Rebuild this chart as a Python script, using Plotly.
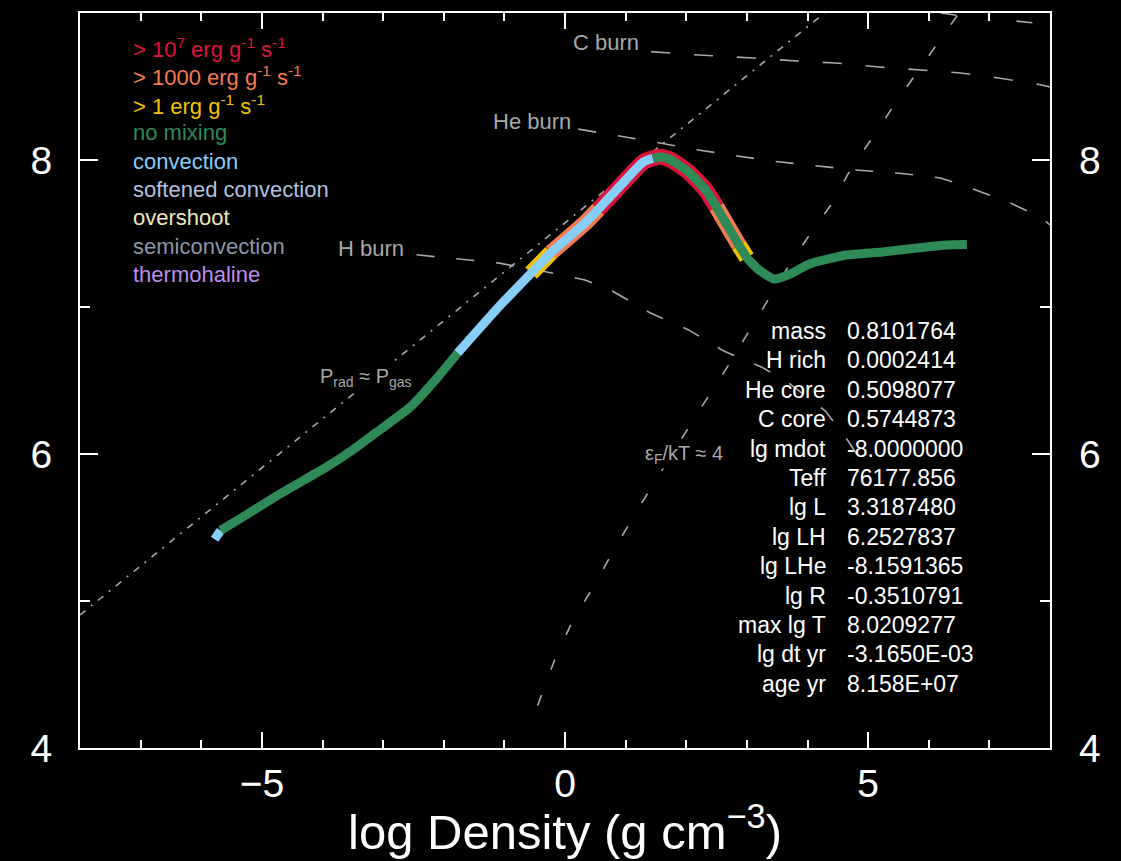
import plotly.graph_objects as go

# ---------------- data ----------------
# stellar profile: log density vs log temperature
log_rho = [-5.78, -5.68, -5.26, -4.76, -4.30, -3.93, -3.50, -3.10, -2.55, -2.11,
           -1.77, -1.11, -0.56, -0.23, 0.33, 0.55, 0.88, 1.29, 1.45, 1.60,
           1.75, 2.04, 2.32, 2.50, 2.75, 2.87, 3.00, 3.20, 3.45, 3.75,
           4.03, 4.64, 5.24, 5.80, 6.30, 6.63]
log_T = [5.42, 5.48, 5.585, 5.714, 5.824, 5.912, 6.028, 6.150, 6.320, 6.517,
         6.687, 6.993, 7.23, 7.37, 7.571, 7.665, 7.81, 7.986, 8.012, 8.021,
         8.00, 7.918, 7.796, 7.68, 7.503, 7.42, 7.335, 7.252, 7.19, 7.231,
         7.293, 7.354, 7.374, 7.401, 7.422, 7.425]
# mixing type of the segment that starts at each point
mix_type = (["convection"] + ["no mixing"] * 9 + ["convection"] * 8
            + ["no mixing"] * 17 + [""])
# burning level of the segment that starts at each point
burn_type = (["none"] * 12 + ["gt1"] + ["gt1000"] * 2 + ["gt1e7"] * 8
             + ["gt1000"] * 2 + ["gt1"] + ["none"] * 9 + [""])

# reference lines
prad_rho = [-8.0, 4.28]
prad_T = [4.905, 9.0]
degen_rho = [-0.45, -0.18, 0.13, 0.46, 0.81, 1.18, 1.51, 2.22, 2.60, 2.95,
             3.32, 3.72, 4.05, 4.38, 4.73, 5.12, 5.47, 5.87, 6.30, 6.50]
degen_T = [4.29, 4.59, 4.87, 5.09, 5.35, 5.61, 5.83, 6.30, 6.54, 6.78,
           7.03, 7.30, 7.50, 7.69, 7.95, 8.18, 8.40, 8.63, 8.88, 9.0]
hburn_rho = [-2.45, -1.11, -0.32, 0.33, 0.75, 1.41, 2.04, 2.62, 3.25, 3.70, 4.30, 4.66, 4.89]
hburn_T = [7.355, 7.30, 7.24, 7.184, 7.116, 6.959, 6.844, 6.70, 6.59, 6.48, 6.29, 6.095, 5.95]
heburn_rho = [0.22, 1.38, 2.09, 2.75, 3.40, 4.03, 4.78, 5.47, 6.19, 6.65, 7.35, 7.84, 8.0]
heburn_T = [8.21, 8.13, 8.075, 8.034, 7.993, 7.966, 7.932, 7.912, 7.878, 7.816, 7.707, 7.612, 7.558]
cburn_rho = [1.42, 2.21, 3.10, 3.83, 4.46, 5.17, 6.52, 7.15, 7.78, 8.0]
cburn_T = [8.737, 8.714, 8.694, 8.673, 8.660, 8.633, 8.592, 8.558, 8.517, 8.497]
oburn_rho = [6.20, 6.43, 7.76, 8.0]
oburn_T = [9.0, 8.986, 8.932, 8.91]

# text blocks
legend_labels = ["> 10<sup>7</sup> erg g<sup>-1</sup> s<sup>-1</sup>",
                 "> 1000 erg g<sup>-1</sup> s<sup>-1</sup>",
                 "> 1 erg g<sup>-1</sup> s<sup>-1</sup>",
                 "no mixing", "convection", "softened convection",
                 "overshoot", "semiconvection", "thermohaline"]
legend_colors = ["#DC143C", "#F47A52", "#F2C200", "#2E8B57", "#87CEFA",
                 "#B0C0DE", "#EDE6BE", "#8A96A8", "#BE8CF0"]
info_labels = ["mass", "H rich", "He core", "C core", "lg mdot", "Teff", "lg L",
               "lg LH", "lg LHe", "lg R", "max lg T", "lg dt yr", "age yr"]
info_values = ["0.8101764", "0.0002414", "0.5098077", "0.5744873", "-8.0000000",
               "76177.856", "3.3187480", "6.2527837", "-8.1591365", "-0.3510791",
               "8.0209277", "-3.1650E-03", "8.158E+07"]

mix_colors = {"no mixing": "#2E8B57", "convection": "#87CEFA"}
burn_colors = {"gt1e7": "#DC143C", "gt1000": "#F47A52", "gt1": "#F2C200"}

GRAY = "#A8A8A8"
FONT = "Liberation Sans"

fig = go.Figure()


def add_ref(xs, ys, dash, width=1.6):
    fig.add_trace(go.Scatter(x=xs, y=ys, mode="lines", hoverinfo="skip",
                             line=dict(color=GRAY, width=width, dash=dash)))


add_ref(prad_rho, prad_T, "7px,7px,2px,7px")
add_ref(degen_rho, degen_T, "11px,27px")
add_ref(hburn_rho, hburn_T, "18px,22px")
add_ref(heburn_rho, heburn_T, "18px,22px")
add_ref(cburn_rho, cburn_T, "19px,24px")
add_ref(oburn_rho, oburn_T, "16px,60px")


def runs(types):
    out = []
    start = 0
    n = len(types) - 1  # number of segments
    for i in range(1, n + 1):
        if i == n or types[i] != types[start]:
            out.append((types[start], start, i))
            start = i
    return out


# burning bands (drawn under the mixing line)
for t, a, b in runs(burn_type):
    if t in burn_colors:
        fig.add_trace(go.Scatter(x=log_rho[a:b + 1], y=log_T[a:b + 1], mode="lines",
                                 line=dict(color=burn_colors[t], width=16, shape="spline",
                                           smoothing=0.5),
                                 hoverinfo="skip"))

# mixing line
for t, a, b in runs(mix_type):
    fig.add_trace(go.Scatter(x=log_rho[a:b + 1], y=log_T[a:b + 1], mode="lines",
                             line=dict(color=mix_colors[t], width=9, shape="spline",
                                       smoothing=0.5),
                             hoverinfo="skip"))

# invisible trace to activate right axis
fig.add_trace(go.Scatter(x=[log_rho[0]], y=[log_T[0]], yaxis="y2", mode="markers",
                         marker=dict(opacity=0), hoverinfo="skip"))

# line annotations
lab_font = dict(family=FONT, size=22, color=GRAY)
fig.add_annotation(x=1.26, y=8.80, text="C burn", showarrow=False, xanchor="right",
                   yanchor="middle", font=lab_font)
fig.add_annotation(x=0.13, y=8.26, text="He burn", showarrow=False, xanchor="right",
                   yanchor="middle", font=lab_font)
fig.add_annotation(x=-2.62, y=7.40, text="H burn", showarrow=False, xanchor="right",
                   yanchor="middle", font=lab_font)
fig.add_annotation(x=-3.28, y=6.52, text="P<sub>rad</sub> ≈ P<sub>gas</sub>", showarrow=False,
                   xanchor="center", yanchor="middle", font=dict(family=FONT, size=20, color=GRAY),
                   bgcolor="black")
fig.add_annotation(x=1.97, y=6.0, text="ε<sub>F</sub>/kT ≈ 4", showarrow=False,
                   xanchor="center", yanchor="middle", font=dict(family=FONT, size=20, color=GRAY),
                   bgcolor="black")

# legend text block (top left)
for i, (txt, col) in enumerate(zip(legend_labels, legend_colors)):
    py = 48 + i * 28.3
    fig.add_annotation(xref="paper", yref="paper", x=(131 - 80) / 970,
                       y=(748 - py) / 735, text=txt, showarrow=False,
                       xanchor="left", yanchor="middle",
                       font=dict(family=FONT, size=22, color=col))

# info block
for i, (lab, val) in enumerate(zip(info_labels, info_values)):
    py = 331 + i * 29.4
    yp = (748 - py) / 735
    fig.add_annotation(xref="paper", yref="paper", x=(828 - 80) / 970, y=yp, text=lab,
                       showarrow=False, xanchor="right", yanchor="middle",
                       font=dict(family=FONT, size=23, color="white"))
    fig.add_annotation(xref="paper", yref="paper", x=(845 - 80) / 970, y=yp, text=val,
                       showarrow=False, xanchor="left", yanchor="middle",
                       font=dict(family=FONT, size=23, color="white"))

# x-axis title
fig.add_annotation(xref="paper", yref="paper", x=0.5, y=(748 - 828) / 735,
                   text="log Density (g cm<sup>−3</sup>)", showarrow=False,
                   xanchor="center", yanchor="middle",
                   font=dict(family=FONT, size=49, color="white"))

tick_font = dict(family=FONT, size=39, color="white")
fig.update_layout(
    width=1121, height=861,
    paper_bgcolor="black", plot_bgcolor="black",
    margin=dict(l=80, r=71, t=13, b=113),
    showlegend=False,
    xaxis=dict(range=[-8, 8], tickvals=[-5, 0, 5], ticks="inside", ticklen=16,
               tickwidth=2, tickcolor="white", showline=True, linecolor="white",
               linewidth=2, mirror="ticks", showgrid=False, zeroline=False,
               minor=dict(dtick=1, tick0=0, ticks="inside", ticklen=8, tickwidth=2,
                          tickcolor="white", showgrid=False),
               tickfont=tick_font, ticklabelstandoff=0),
    yaxis=dict(range=[4, 9], tickvals=[4, 6, 8], ticks="inside", ticklen=18,
               tickwidth=2, tickcolor="white", showline=True, linecolor="white",
               linewidth=2, mirror="ticks", showgrid=False, zeroline=False,
               minor=dict(dtick=1, tick0=0, ticks="inside", ticklen=10, tickwidth=2,
                          tickcolor="white", showgrid=False),
               tickfont=tick_font, ticklabelstandoff=18),
    yaxis2=dict(range=[4, 9], tickvals=[4, 6, 8], overlaying="y", side="right",
                ticks="", showline=False, showgrid=False, zeroline=False,
                tickfont=tick_font, ticklabelstandoff=28),
)

fig.write_html("out.html", config={"displayModeBar": False},
               post_script="document.body.style.margin='0';"
                           "document.body.style.background='black';")
